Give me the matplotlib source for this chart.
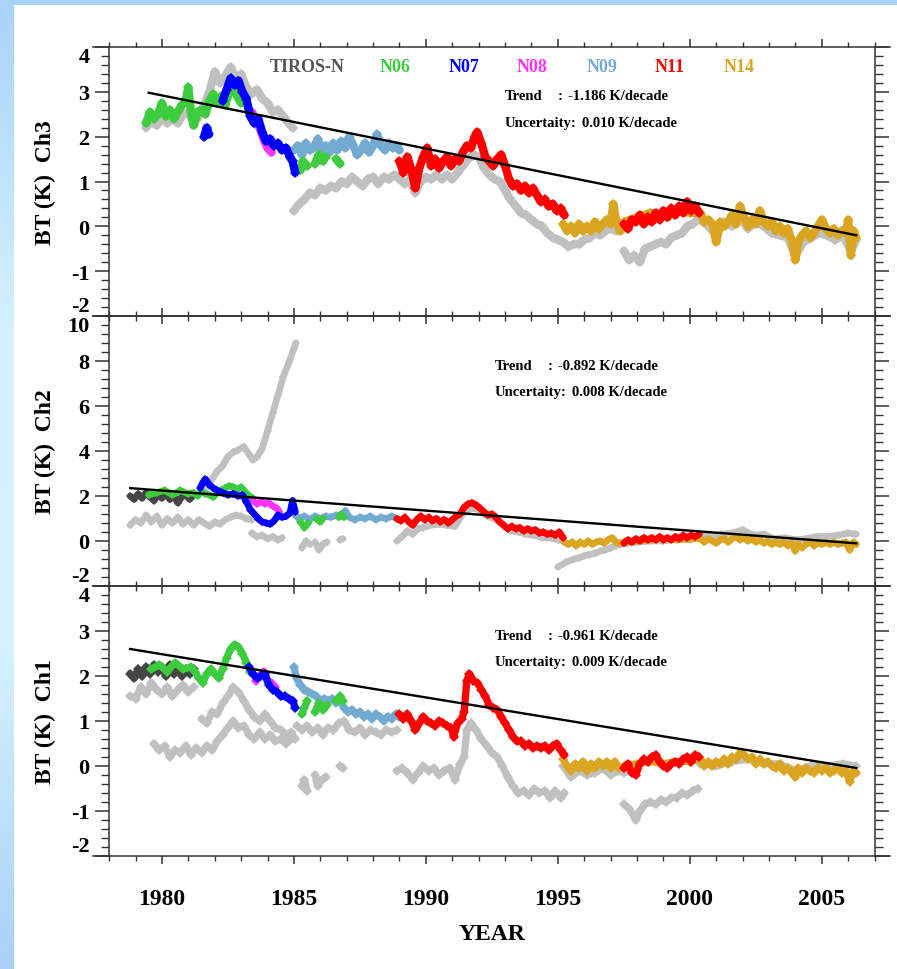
import numpy as np
import matplotlib
matplotlib.use("Agg")
import matplotlib.pyplot as plt
from matplotlib.colors import LinearSegmentedColormap
from matplotlib.patches import Rectangle
from matplotlib.ticker import FixedLocator, MultipleLocator

# --- data: (year, BT anomaly K); BRK breaks a band ---
BRK = (np.nan, np.nan)

SATS = ["TIROS-N", "N06", "N07", "N08", "N09", "N11", "N14"]
SAT_COLORS = ["#454545", "#3dcc3d", "#0000ff", "#ff33ff", "#72aad2", "#ff0000", "#daa520"]
GRAY = "#c0c0c0"

# ---------- Ch3 ----------
CH3_GRAY = [
    (1979.4, 2.20), (1979.6, 2.35), (1979.8, 2.25), (1980.0, 2.45), (1980.2, 2.30), (1980.4, 2.40),
    (1980.6, 2.30), (1980.8, 2.50), (1981.0, 2.55), (1981.2, 2.30), (1981.4, 2.45), (1981.6, 2.70),
    (1981.8, 3.00), (1982.0, 3.45), (1982.2, 3.20), (1982.4, 3.35), (1982.6, 3.55), (1982.8, 3.30),
    (1983.0, 3.40), (1983.2, 3.10), (1983.4, 2.95), (1983.6, 3.05), (1983.8, 2.85), (1984.0, 2.75),
    (1984.2, 2.55), (1984.4, 2.60), (1984.6, 2.45), (1984.8, 2.30), (1984.95, 2.20),
    BRK,
    (1985.0, 0.35), (1985.2, 0.50), (1985.4, 0.60), (1985.6, 0.75), (1985.8, 0.70), (1986.0, 0.85),
    (1986.2, 0.80), (1986.4, 0.90), (1986.6, 0.85), (1986.8, 1.00), (1987.0, 0.95), (1987.2, 1.10),
    (1987.4, 1.00), (1987.6, 0.90), (1987.8, 1.05), (1988.0, 1.10), (1988.2, 0.95), (1988.4, 1.10),
    (1988.6, 1.05), (1988.8, 1.15), (1989.0, 1.05), (1989.2, 0.95), (1989.4, 1.05), (1989.6, 0.75),
    (1989.8, 1.00), (1990.0, 1.10), (1990.2, 1.05), (1990.4, 1.15), (1990.6, 1.05), (1990.8, 1.15),
    (1991.0, 1.05), (1991.2, 1.20), (1991.4, 1.35), (1991.6, 1.50), (1991.8, 1.60), (1992.0, 1.55),
    (1992.2, 1.30), (1992.4, 1.15), (1992.6, 1.05), (1992.8, 1.00), (1993.0, 0.80), (1993.2, 0.60),
    (1993.4, 0.45), (1993.6, 0.30), (1993.8, 0.25), (1994.0, 0.15), (1994.2, 0.05), (1994.4, 0.00),
    (1994.6, -0.15), (1994.8, -0.25), (1995.0, -0.30), (1995.2, -0.35), (1995.4, -0.45), (1995.6, -0.40),
    (1995.8, -0.40), (1996.0, -0.30), (1996.2, -0.25), (1996.4, -0.15), (1996.6, -0.20), (1996.8, -0.10),
    (1997.0, -0.05), (1997.2, -0.10), (1997.4, -0.10),
    BRK,
    (1997.5, -0.55), (1997.7, -0.75), (1997.9, -0.65), (1998.1, -0.80), (1998.3, -0.50), (1998.5, -0.45),
    (1998.7, -0.40), (1998.9, -0.35), (1999.1, -0.40), (1999.3, -0.25), (1999.5, -0.20), (1999.7, -0.15),
    (1999.9, 0.00), (2000.1, 0.05), (2000.3, 0.15),
    BRK,
    (2000.4, 0.15), (2000.7, 0.00), (2001.0, -0.20), (2001.3, 0.10), (2001.6, 0.00), (2001.9, 0.20),
    (2002.2, -0.05), (2002.5, 0.10), (2002.8, 0.00), (2003.1, -0.15), (2003.4, -0.20), (2003.7, -0.25),
    (2004.0, -0.65), (2004.3, -0.35), (2004.6, -0.25), (2004.9, -0.15), (2005.2, -0.20), (2005.5, -0.30),
    (2005.8, -0.20), (2006.1, -0.55), (2006.3, -0.30),
]
CH3_N06 = [
    (1979.4, 2.30), (1979.55, 2.55), (1979.7, 2.40), (1979.85, 2.50), (1980.0, 2.75), (1980.15, 2.45),
    (1980.3, 2.60), (1980.45, 2.40), (1980.6, 2.55), (1980.75, 2.70), (1980.9, 2.80), (1981.0, 3.10),
    (1981.1, 2.55), (1981.2, 2.25), (1981.35, 2.55), (1981.5, 2.60), (1981.65, 2.50), (1981.8, 2.80),
    (1981.95, 2.95), (1982.1, 2.75), (1982.25, 2.90), (1982.4, 2.70), (1982.55, 3.00), (1982.7, 3.15),
    (1982.85, 2.90), (1983.0, 2.75), (1983.15, 2.85), (1983.3, 2.55),
    BRK, (1985.25, 1.25), (1985.35, 1.45), (1985.5, 1.35),
    BRK, (1985.8, 1.40), (1985.95, 1.60), (1986.1, 1.45), (1986.2, 1.55),
    BRK, (1986.6, 1.50), (1986.75, 1.40),
]
CH3_N07 = [
    (1981.6, 2.00), (1981.7, 2.20), (1981.78, 2.05),
    BRK,
    (1982.3, 2.80), (1982.45, 3.05), (1982.6, 3.30), (1982.75, 3.15), (1982.9, 3.25), (1983.05, 3.00),
    (1983.2, 2.85), (1983.35, 2.45), (1983.5, 2.30), (1983.65, 2.40), (1983.8, 2.10), (1983.95, 1.90),
    (1984.1, 1.95), (1984.25, 1.80), (1984.4, 1.85), (1984.55, 1.70), (1984.7, 1.75), (1984.85, 1.55),
    (1984.95, 1.45), (1985.05, 1.20),
]
CH3_N08 = [(1983.4, 2.55), (1983.55, 2.35), (1983.7, 2.20), (1983.85, 1.95), (1984.0, 1.75), (1984.15, 1.65)]
CH3_N09 = [
    (1985.0, 1.70), (1985.15, 1.80), (1985.3, 1.60), (1985.45, 1.85), (1985.6, 1.70), (1985.75, 1.75),
    (1985.9, 1.95), (1986.05, 1.70), (1986.2, 1.80), (1986.35, 1.65), (1986.5, 1.85), (1986.65, 1.70),
    (1986.8, 1.90), (1986.95, 1.75), (1987.1, 2.00), (1987.25, 1.80), (1987.4, 1.60), (1987.55, 1.70),
    (1987.7, 1.85), (1987.85, 1.65), (1988.0, 1.80), (1988.15, 2.05), (1988.3, 1.80), (1988.45, 1.70),
    (1988.6, 1.85), (1988.75, 1.75), (1988.9, 1.80), (1989.0, 1.70),
]
CH3_N11 = [
    (1989.0, 1.45), (1989.15, 1.20), (1989.3, 1.55), (1989.45, 1.25), (1989.6, 0.85), (1989.75, 1.30),
    (1989.9, 1.55), (1990.05, 1.75), (1990.2, 1.35), (1990.35, 1.50), (1990.5, 1.30), (1990.65, 1.45),
    (1990.8, 1.55), (1990.95, 1.35), (1991.1, 1.50), (1991.25, 1.45), (1991.4, 1.65), (1991.55, 1.80),
    (1991.7, 1.75), (1991.85, 2.00), (1991.95, 2.10), (1992.1, 1.85), (1992.25, 1.55), (1992.4, 1.45),
    (1992.55, 1.35), (1992.7, 1.50), (1992.85, 1.60), (1993.0, 1.35), (1993.15, 1.05), (1993.3, 0.90),
    (1993.45, 0.95), (1993.6, 0.80), (1993.75, 0.90), (1993.9, 0.75), (1994.05, 0.85), (1994.2, 0.70),
    (1994.35, 0.55), (1994.5, 0.60), (1994.65, 0.45), (1994.8, 0.50), (1994.95, 0.35), (1995.1, 0.40),
    (1995.25, 0.25),
    BRK,
    (1997.5, 0.05), (1997.65, -0.05), (1997.8, 0.15), (1997.95, 0.10), (1998.1, 0.25), (1998.25, 0.05),
    (1998.4, 0.20), (1998.55, 0.10), (1998.7, 0.30), (1998.85, 0.15), (1999.0, 0.35), (1999.15, 0.20),
    (1999.3, 0.40), (1999.45, 0.25), (1999.6, 0.45), (1999.75, 0.30), (1999.9, 0.55), (2000.05, 0.35),
    (2000.2, 0.45), (2000.35, 0.30),
]
CH3_N14 = [
    (1995.2, 0.05), (1995.35, -0.10), (1995.5, 0.00), (1995.65, -0.15), (1995.8, 0.05), (1995.95, -0.10),
    (1996.1, 0.00), (1996.25, -0.10), (1996.4, 0.10), (1996.55, -0.05), (1996.7, 0.05), (1996.85, 0.15),
    (1997.0, 0.05), (1997.1, 0.50), (1997.2, 0.15), (1997.35, -0.10), (1997.5, 0.10), (1998.0, 0.20),
    (1998.5, 0.30), (1999.0, 0.25), (1999.5, 0.35), (2000.0, 0.30), (2000.4, 0.30), (2000.55, 0.10),
    (2000.7, 0.15), (2000.85, 0.05), (2001.0, -0.35), (2001.15, 0.10), (2001.3, 0.00), (2001.45, 0.10),
    (2001.6, 0.25), (2001.75, 0.05), (2001.9, 0.45), (2002.05, 0.20), (2002.2, 0.00), (2002.35, 0.15),
    (2002.5, 0.05), (2002.65, 0.35), (2002.8, 0.10), (2002.95, 0.00), (2003.1, 0.10), (2003.25, -0.10),
    (2003.4, 0.00), (2003.55, -0.15), (2003.7, -0.05), (2003.85, -0.30), (2004.0, -0.75), (2004.1, -0.35),
    (2004.25, -0.20), (2004.4, -0.10), (2004.55, -0.25), (2004.7, -0.15), (2004.85, 0.00), (2005.0, 0.15),
    (2005.15, -0.05), (2005.3, -0.15), (2005.45, -0.05), (2005.6, -0.20), (2005.75, -0.10), (2005.9, -0.15),
    (2006.0, 0.15), (2006.1, -0.65), (2006.2, -0.10), (2006.3, -0.25),
]

# ---------- Ch2 ----------
CH2_GRAY = [
    (1978.8, 0.70), (1979.0, 0.95), (1979.2, 0.80), (1979.4, 1.15), (1979.6, 0.85), (1979.8, 1.10),
    (1980.0, 0.70), (1980.2, 1.00), (1980.4, 0.80), (1980.6, 1.05), (1980.8, 0.75), (1981.0, 0.95),
    (1981.2, 0.70), (1981.4, 0.95), (1981.6, 0.80), (1981.8, 0.65), (1982.0, 0.85), (1982.2, 0.75),
    (1982.4, 0.95), (1982.6, 1.05), (1982.8, 1.15), (1983.0, 1.10), (1983.2, 1.00), (1983.4, 0.95),
    BRK,
    (1983.4, 0.35), (1983.6, 0.20), (1983.8, 0.25), (1984.0, 0.10), (1984.2, 0.20), (1984.4, 0.05), (1984.55, 0.15),
    BRK,
    (1981.7, 2.40), (1981.9, 2.75), (1982.1, 3.10), (1982.3, 3.35), (1982.5, 3.75), (1982.7, 3.95),
    (1982.9, 4.05), (1983.1, 4.20), (1983.3, 3.85), (1983.45, 3.60), (1983.6, 3.75), (1983.8, 4.10),
    (1984.0, 4.90), (1984.2, 5.70), (1984.4, 6.50), (1984.6, 7.30), (1984.8, 7.90), (1985.0, 8.55), (1985.07, 8.80),
    BRK, (1985.3, -0.30), (1985.45, 0.00), (1985.6, -0.15),
    BRK, (1985.8, -0.05), (1985.95, -0.40), (1986.1, -0.15), (1986.25, -0.05),
    BRK, (1986.75, 0.05), (1986.85, 0.10),
    BRK,
    (1988.9, 0.00), (1989.1, 0.20), (1989.3, 0.45), (1989.5, 0.30), (1989.7, 0.55), (1989.9, 0.60),
    (1990.2, 0.70), (1990.5, 0.75), (1990.8, 0.70), (1991.1, 0.65), (1991.4, 1.20), (1991.7, 1.45),
    (1992.0, 1.40), (1992.3, 1.10), (1992.6, 1.00), (1992.9, 0.70), (1993.2, 0.45), (1993.5, 0.40),
    (1993.8, 0.30), (1994.1, 0.25), (1994.4, 0.15), (1994.7, 0.15), (1995.0, 0.05), (1995.2, 0.00),
    BRK,
    (1995.0, -1.15), (1995.3, -0.95), (1995.6, -0.80), (1995.8, -0.75), (1996.0, -0.65), (1996.2, -0.60),
    (1996.4, -0.55), (1996.6, -0.45), (1996.8, -0.40), (1997.0, -0.30), (1997.2, -0.20), (1997.4, -0.15),
    (1997.7, -0.10), (1998.0, -0.05), (1998.5, 0.00), (1999.0, 0.00), (1999.5, 0.10), (2000.0, 0.05), (2000.4, 0.20),
    BRK,
    (2000.4, 0.30), (2000.8, 0.20), (2001.2, 0.30), (2001.6, 0.35), (2002.0, 0.50), (2002.4, 0.25),
    (2002.8, 0.30), (2003.2, 0.10), (2003.6, 0.15), (2004.0, 0.05), (2004.4, 0.10), (2004.8, 0.20),
    (2005.2, 0.20), (2005.6, 0.25), (2006.0, 0.35), (2006.3, 0.30),
]
CH2_TIROS = [
    (1978.8, 2.00), (1978.95, 1.85), (1979.1, 2.10), (1979.25, 1.90), (1979.4, 2.15), (1979.55, 1.95),
    (1979.7, 1.80), (1979.85, 2.05), (1980.0, 1.90), (1980.15, 2.10), (1980.3, 1.85), (1980.45, 2.00),
    (1980.6, 1.70), (1980.75, 1.95), (1980.9, 2.05), (1981.05, 1.85), (1981.2, 2.05),
]
CH2_N06 = [
    (1979.5, 2.05), (1979.8, 2.15), (1980.1, 2.25), (1980.4, 2.05), (1980.7, 2.25), (1981.0, 2.10),
    (1981.2, 2.15), (1981.35, 2.00), (1981.5, 2.20), (1981.65, 2.10), (1981.8, 2.05), (1981.95, 1.95),
    (1982.1, 2.15), (1982.25, 2.25), (1982.4, 2.35), (1982.55, 2.45), (1982.7, 2.40), (1982.85, 2.30),
    (1983.0, 2.40), (1983.15, 2.20), (1983.3, 2.00), (1983.45, 1.90),
    BRK, (1985.25, 0.85), (1985.4, 0.60), (1985.55, 0.80),
    BRK, (1985.85, 1.00), (1986.0, 0.85), (1986.1, 1.00),
    BRK, (1986.7, 1.05), (1986.8, 1.20), (1986.9, 1.05),
]
CH2_N07 = [
    (1981.45, 2.35), (1981.55, 2.60), (1981.65, 2.75), (1981.8, 2.50), (1981.95, 2.35), (1982.1, 2.25),
    (1982.3, 2.15), (1982.5, 2.05), (1982.7, 2.10), (1982.9, 2.00), (1983.05, 2.05), (1983.2, 1.75),
    (1983.35, 1.40), (1983.5, 1.20), (1983.65, 1.00), (1983.8, 0.85), (1983.95, 0.80), (1984.1, 0.75),
    (1984.25, 0.90), (1984.4, 1.15), (1984.55, 1.05), (1984.7, 1.10), (1984.85, 1.25), (1984.95, 1.80),
    (1985.05, 1.30),
]
CH2_N08 = [(1983.45, 1.80), (1983.6, 1.65), (1983.75, 1.75), (1983.9, 1.65), (1984.05, 1.70),
           (1984.2, 1.55), (1984.35, 1.45), (1984.45, 1.30)]
CH2_N09 = [
    (1985.0, 1.20), (1985.2, 1.00), (1985.4, 1.10), (1985.6, 0.95), (1985.8, 1.10), (1986.0, 1.00),
    (1986.2, 1.10), (1986.4, 1.05), (1986.6, 1.15), (1986.8, 1.10), (1986.95, 1.35), (1987.1, 1.05),
    (1987.3, 0.95), (1987.5, 1.05), (1987.7, 1.00), (1987.9, 1.10), (1988.1, 0.95), (1988.3, 1.05),
    (1988.5, 1.00), (1988.7, 1.10), (1988.9, 1.00),
]
CH2_N11 = [
    (1988.9, 1.00), (1989.05, 0.90), (1989.2, 1.05), (1989.35, 0.85), (1989.5, 0.70), (1989.65, 0.95),
    (1989.8, 1.10), (1989.95, 0.95), (1990.1, 1.05), (1990.25, 0.90), (1990.4, 1.00), (1990.55, 0.85),
    (1990.7, 0.95), (1990.85, 0.80), (1991.0, 0.95), (1991.15, 1.10), (1991.3, 1.20), (1991.45, 1.50),
    (1991.6, 1.65), (1991.75, 1.70), (1991.9, 1.60), (1992.05, 1.45), (1992.2, 1.30), (1992.35, 1.15),
    (1992.5, 1.20), (1992.65, 1.05), (1992.8, 0.85), (1992.95, 0.70), (1993.1, 0.55), (1993.25, 0.65),
    (1993.4, 0.55), (1993.55, 0.60), (1993.7, 0.45), (1993.85, 0.55), (1994.0, 0.45), (1994.15, 0.50),
    (1994.3, 0.35), (1994.45, 0.40), (1994.6, 0.30), (1994.75, 0.35), (1994.9, 0.25), (1995.05, 0.40),
    (1995.2, 0.15),
    BRK,
    (1997.5, -0.10), (1997.65, 0.05), (1997.8, -0.05), (1997.95, 0.10), (1998.1, 0.00), (1998.25, 0.15),
    (1998.4, 0.05), (1998.55, 0.15), (1998.7, 0.05), (1998.85, 0.20), (1999.0, 0.05), (1999.15, 0.15),
    (1999.3, 0.05), (1999.45, 0.20), (1999.6, 0.10), (1999.75, 0.25), (1999.9, 0.15), (2000.05, 0.25),
    (2000.2, 0.20), (2000.35, 0.30),
]
CH2_N14 = [
    (1995.25, -0.05), (1995.4, -0.15), (1995.55, -0.05), (1995.7, -0.20), (1995.85, -0.05), (1996.0, -0.15),
    (1996.15, 0.00), (1996.3, -0.15), (1996.45, -0.05), (1996.6, 0.00), (1996.75, -0.10), (1996.9, 0.05),
    (1997.05, 0.15), (1997.2, -0.05), (1997.35, -0.10), (1997.5, -0.05), (1998.0, 0.00), (1998.5, 0.05),
    (1999.0, 0.10), (1999.5, 0.05), (2000.0, 0.10), (2000.4, 0.10), (2000.55, -0.05), (2000.7, 0.10),
    (2000.85, 0.00), (2001.0, -0.10), (2001.15, 0.05), (2001.3, 0.10), (2001.45, -0.05), (2001.6, 0.10),
    (2001.75, 0.20), (2001.9, 0.05), (2002.05, 0.15), (2002.2, 0.00), (2002.35, 0.10), (2002.5, -0.05),
    (2002.65, 0.05), (2002.8, -0.10), (2002.95, 0.00), (2003.1, -0.15), (2003.25, -0.05), (2003.4, -0.15),
    (2003.55, -0.05), (2003.7, -0.20), (2003.85, -0.10), (2004.0, -0.45), (2004.1, -0.15), (2004.25, -0.30),
    (2004.4, -0.15), (2004.55, -0.05), (2004.7, -0.20), (2004.85, -0.10), (2005.0, -0.15), (2005.15, -0.05),
    (2005.3, -0.15), (2005.45, -0.05), (2005.6, -0.15), (2005.75, -0.10), (2005.9, -0.05), (2006.05, -0.40),
    (2006.2, -0.05), (2006.3, -0.15),
]

# ---------- Ch1 ----------
CH1_GRAY = [
    (1978.8, 1.55), (1979.0, 1.50), (1979.2, 1.75), (1979.4, 1.60), (1979.6, 1.85), (1979.8, 1.70),
    (1980.0, 1.60), (1980.2, 1.75), (1980.4, 1.55), (1980.6, 1.70), (1980.8, 1.80), (1981.0, 1.65), (1981.2, 1.75),
    BRK,
    (1981.5, 1.05), (1981.7, 0.95), (1981.9, 1.20), (1982.1, 1.15), (1982.3, 1.40), (1982.5, 1.55),
    (1982.7, 1.75), (1982.9, 1.65), (1983.1, 1.45), (1983.3, 1.25), (1983.5, 1.10), (1983.7, 1.00),
    (1983.9, 1.15), (1984.1, 1.00), (1984.3, 0.85), (1984.5, 0.80), (1984.7, 0.70), (1984.9, 0.75), (1985.05, 0.60),
    BRK,
    (1979.7, 0.50), (1979.9, 0.35), (1980.1, 0.45), (1980.3, 0.20), (1980.5, 0.35), (1980.7, 0.30),
    (1980.9, 0.45), (1981.1, 0.25), (1981.3, 0.40), (1981.5, 0.30), (1981.7, 0.45), (1981.9, 0.35),
    (1982.1, 0.55), (1982.3, 0.70), (1982.5, 0.85), (1982.7, 1.00), (1982.9, 0.85), (1983.1, 0.90),
    (1983.3, 0.70), (1983.5, 0.60), (1983.7, 0.75), (1983.9, 0.60), (1984.1, 0.70), (1984.3, 0.55),
    (1984.5, 0.60), (1984.7, 0.50), (1984.9, 0.60),
    BRK,
    (1985.1, 0.90), (1985.3, 0.80), (1985.5, 0.90), (1985.7, 0.75), (1985.9, 0.85), (1986.1, 0.70),
    (1986.3, 0.85), (1986.5, 0.80), (1986.7, 0.95), (1986.9, 1.00), (1987.1, 0.80), (1987.3, 0.75),
    (1987.5, 0.85), (1987.7, 0.70), (1987.9, 0.80), (1988.1, 0.75), (1988.3, 0.70), (1988.5, 0.80),
    (1988.7, 0.75), (1988.9, 0.80),
    BRK, (1985.3, -0.45), (1985.4, -0.30), (1985.5, -0.55),
    BRK, (1985.8, -0.20), (1985.9, -0.45), (1986.05, -0.30), (1986.2, -0.25),
    BRK, (1986.75, 0.00), (1986.85, -0.05),
    BRK,
    (1988.9, -0.10), (1989.1, -0.05), (1989.3, -0.15), (1989.5, -0.30), (1989.7, -0.15), (1989.9, 0.00),
    (1990.1, -0.10), (1990.3, -0.05), (1990.5, -0.20), (1990.7, -0.10), (1990.9, -0.05), (1991.1, -0.30),
    (1991.3, 0.05), (1991.45, 0.20), (1991.55, 0.80), (1991.7, 0.95), (1991.9, 0.80), (1992.1, 0.60),
    (1992.3, 0.45), (1992.5, 0.30), (1992.7, 0.20), (1992.9, 0.00), (1993.1, -0.25), (1993.3, -0.45),
    (1993.5, -0.60), (1993.7, -0.55), (1993.9, -0.65), (1994.1, -0.50), (1994.3, -0.60), (1994.5, -0.55),
    (1994.7, -0.70), (1994.9, -0.55), (1995.1, -0.70), (1995.25, -0.60),
    BRK,
    (1995.2, 0.00), (1995.5, -0.25), (1995.8, -0.10), (1996.1, -0.20), (1996.4, -0.15), (1996.7, -0.05),
    (1997.0, -0.20), (1997.3, -0.10), (1997.5, -0.15),
    BRK,
    (1997.5, -0.85), (1997.7, -0.95), (1997.95, -1.20), (1998.1, -1.00), (1998.3, -0.85), (1998.5, -0.80),
    (1998.7, -0.85), (1998.9, -0.75), (1999.1, -0.80), (1999.3, -0.70), (1999.5, -0.70), (1999.7, -0.60),
    (1999.9, -0.65), (2000.1, -0.55), (2000.3, -0.50),
    BRK,
    (2000.4, 0.05), (2001.0, 0.00), (2001.6, 0.10), (2002.2, 0.15), (2002.8, 0.05), (2003.4, 0.05),
    (2004.0, -0.10), (2004.6, 0.00), (2005.2, 0.00), (2005.8, 0.05), (2006.3, 0.00),
]
CH1_TIROS = [
    (1978.8, 2.05), (1978.95, 1.95), (1979.1, 2.15), (1979.25, 2.00), (1979.4, 2.20), (1979.55, 2.05),
    (1979.7, 2.25), (1979.85, 2.10), (1980.0, 2.20), (1980.15, 2.00), (1980.3, 2.25), (1980.45, 2.05),
    (1980.6, 2.20), (1980.75, 2.00), (1980.9, 2.15), (1981.05, 2.05), (1981.2, 2.15),
]
CH1_N06 = [
    (1979.6, 2.15), (1979.9, 2.25), (1980.2, 2.10), (1980.5, 2.30), (1980.8, 2.15), (1981.1, 2.20),
    (1981.25, 2.10), (1981.4, 1.95), (1981.55, 1.85), (1981.7, 2.05), (1981.85, 2.15), (1982.0, 2.05),
    (1982.15, 1.95), (1982.3, 2.15), (1982.45, 2.40), (1982.6, 2.60), (1982.75, 2.70), (1982.9, 2.65),
    (1983.05, 2.50), (1983.2, 2.30), (1983.35, 2.10),
    BRK, (1985.3, 1.15), (1985.4, 1.30), (1985.5, 1.45),
    BRK, (1985.8, 1.20), (1985.95, 1.40), (1986.1, 1.25), (1986.25, 1.35),
    BRK, (1986.6, 1.45), (1986.75, 1.55), (1986.85, 1.45),
]
CH1_N07 = [
    (1983.3, 2.20), (1983.45, 2.05), (1983.6, 1.95), (1983.75, 2.00), (1983.9, 2.05), (1984.05, 1.80),
    (1984.2, 1.70), (1984.35, 1.65), (1984.5, 1.55), (1984.65, 1.55), (1984.8, 1.50), (1984.95, 1.45),
    (1985.05, 1.30),
]
CH1_N08 = [(1983.55, 1.90), (1983.7, 2.00), (1983.85, 2.10), (1984.0, 1.90), (1984.15, 1.85), (1984.3, 1.75)]
CH1_N09 = [
    (1985.0, 2.20), (1985.1, 1.95), (1985.25, 1.80), (1985.4, 1.70), (1985.55, 1.65), (1985.7, 1.60),
    (1985.85, 1.55), (1986.0, 1.45), (1986.15, 1.50), (1986.3, 1.45), (1986.45, 1.50), (1986.6, 1.40),
    (1986.75, 1.45), (1986.9, 1.30), (1987.05, 1.20), (1987.2, 1.25), (1987.35, 1.15), (1987.5, 1.20),
    (1987.65, 1.10), (1987.8, 1.15), (1987.95, 1.05), (1988.1, 1.15), (1988.25, 1.10), (1988.4, 1.00),
    (1988.55, 1.10), (1988.7, 1.05), (1988.85, 1.15), (1989.0, 1.10),
]
CH1_N11 = [
    (1989.0, 1.15), (1989.15, 1.05), (1989.3, 1.15), (1989.45, 1.00), (1989.6, 0.80), (1989.75, 0.95),
    (1989.9, 1.10), (1990.05, 1.00), (1990.2, 0.95), (1990.35, 0.90), (1990.5, 1.00), (1990.65, 0.95),
    (1990.8, 0.90), (1990.95, 0.85), (1991.05, 0.65), (1991.2, 0.95), (1991.35, 1.05), (1991.45, 1.20),
    (1991.55, 1.90), (1991.65, 2.05), (1991.8, 1.90), (1991.95, 1.85), (1992.1, 1.70), (1992.25, 1.55),
    (1992.4, 1.35), (1992.55, 1.30), (1992.7, 1.25), (1992.85, 1.10), (1993.0, 0.95), (1993.15, 0.80),
    (1993.3, 0.65), (1993.45, 0.55), (1993.6, 0.55), (1993.75, 0.45), (1993.9, 0.50), (1994.05, 0.40),
    (1994.2, 0.45), (1994.35, 0.40), (1994.5, 0.45), (1994.65, 0.35), (1994.8, 0.45), (1994.95, 0.50),
    (1995.1, 0.35), (1995.25, 0.25),
    BRK,
    (1997.5, -0.05), (1997.65, 0.05), (1997.8, -0.15), (1997.95, -0.20), (1998.1, 0.05), (1998.25, 0.15),
    (1998.4, 0.10), (1998.55, 0.20), (1998.7, 0.25), (1998.85, 0.10), (1999.0, 0.00), (1999.15, -0.05),
    (1999.3, 0.05), (1999.45, 0.10), (1999.6, 0.05), (1999.75, 0.15), (1999.9, 0.20), (2000.05, 0.10),
    (2000.2, 0.25), (2000.35, 0.20),
]
CH1_N14 = [
    (1995.2, 0.15), (1995.35, 0.00), (1995.5, -0.10), (1995.65, 0.05), (1995.8, -0.05), (1995.95, 0.10),
    (1996.1, -0.10), (1996.25, 0.05), (1996.4, -0.05), (1996.55, 0.10), (1996.7, 0.00), (1996.85, 0.10),
    (1997.0, -0.05), (1997.15, 0.10), (1997.3, -0.05), (1997.5, 0.00), (1998.0, 0.05), (1998.5, 0.10),
    (1999.0, 0.05), (1999.5, 0.10), (2000.0, 0.10), (2000.4, 0.15), (2000.55, 0.00), (2000.7, 0.10),
    (2000.85, 0.00), (2001.0, 0.10), (2001.15, 0.05), (2001.3, 0.15), (2001.45, 0.05), (2001.6, 0.20),
    (2001.75, 0.15), (2001.9, 0.30), (2002.05, 0.25), (2002.2, 0.15), (2002.35, 0.20), (2002.5, 0.05),
    (2002.65, 0.15), (2002.8, 0.05), (2002.95, 0.10), (2003.1, 0.00), (2003.25, -0.05), (2003.4, 0.05),
    (2003.55, -0.10), (2003.7, -0.05), (2003.85, -0.15), (2004.0, -0.25), (2004.1, -0.05), (2004.25, -0.15),
    (2004.4, -0.05), (2004.55, -0.10), (2004.7, -0.15), (2004.85, -0.05), (2005.0, -0.10), (2005.15, -0.05),
    (2005.3, -0.15), (2005.45, -0.10), (2005.6, -0.05), (2005.75, -0.15), (2005.9, -0.10), (2006.05, -0.35),
    (2006.2, -0.10), (2006.3, -0.15),
]

# trend lines: start year, value at start, slope (K/decade), end year
TREND_START = [1979.5, 1978.8, 1978.8]
TREND_Y0 = [2.98, 2.35, 2.60]
TREND_SLOPE = [-1.186, -0.892, -0.961]
TREND_END = 2006.3
TREND_UNC = ["0.010", "0.008", "0.009"]

CHANNELS = ["Ch3", "Ch2", "Ch1"]
YTICKS = [[-2, -1, 0, 1, 2, 3, 4], [-2, 0, 2, 4, 6, 8, 10], [-2, -1, 0, 1, 2, 3, 4]]
XTICKS = [1980, 1985, 1990, 1995, 2000, 2005]

# --- Plotting ---
W, H = 897, 970
plt.rcParams['font.family'] = ['Liberation Serif', 'DejaVu Serif']
plt.rcParams['font.weight'] = 'bold'
plt.rcParams['axes.unicode_minus'] = False

fig = plt.figure(figsize=(W / 100, H / 100), dpi=100)
fig.patch.set_facecolor('white')

# light-blue slide frame (left strip + top strip)
bg = fig.add_axes([0, 0, 13 / W, 1], zorder=-5)
cmap = LinearSegmentedColormap.from_list('frame', ['#a9d0f8', '#d6f2fe', '#d4f0fe', '#a8d4fa'])
bg.imshow(np.linspace(0, 1, 200).reshape(-1, 1), aspect='auto', cmap=cmap, extent=[0, 1, 0, 1], origin='lower')
bg.axis('off')
fig.patches.append(Rectangle((0, 1 - 6 / H), 1, 6 / H, transform=fig.transFigure,
                             facecolor='#a8d4fa', edgecolor='none', zorder=-4))

panels = [
    dict(gray=CH3_GRAY, tiros=None, n06=CH3_N06, n07=CH3_N07, n08=CH3_N08, n09=CH3_N09, n11=CH3_N11, n14=CH3_N14),
    dict(gray=CH2_GRAY, tiros=CH2_TIROS, n06=CH2_N06, n07=CH2_N07, n08=CH2_N08, n09=CH2_N09, n11=CH2_N11, n14=CH2_N14),
    dict(gray=CH1_GRAY, tiros=CH1_TIROS, n06=CH1_N06, n07=CH1_N07, n08=CH1_N08, n09=CH1_N09, n11=CH1_N11, n14=CH1_N14),
]
tops = [48, 317, 587]
heights = [269, 270, 270]
x0_px, x1_px = 93, 890
XLIM = (1977.39, 2007.58)
axc = dict(n06=SAT_COLORS[1], n07=SAT_COLORS[2], n08=SAT_COLORS[3], n09=SAT_COLORS[4],
           n11=SAT_COLORS[5], n14=SAT_COLORS[6])
LWS = [6.0, 4.8, 5.2]   # band thickness per panel
MS = [5.5, 4.5, 5.0]


def band(ax, pts, color, z, lw, ms):
    a = np.array(pts, dtype=float)
    ax.plot(a[:, 0], a[:, 1], color=color, lw=lw, solid_joinstyle='round',
            solid_capstyle='round', marker='D', ms=ms, mew=0, zorder=z)


axes = []
for i, p in enumerate(panels):
    ax = fig.add_axes([x0_px / W, 1 - (tops[i] + heights[i]) / H, (x1_px - x0_px) / W, heights[i] / H])
    axes.append(ax)
    ax.set_facecolor('none')
    ax.set_xlim(*XLIM)
    ax.set_ylim(YTICKS[i][0], YTICKS[i][-1])
    lw, ms = LWS[i], MS[i]

    band(ax, p['gray'], GRAY, 2, lw, ms)
    if p['tiros'] is not None:
        band(ax, p['tiros'], SAT_COLORS[0], 3, lw, ms)
    band(ax, p['n09'], axc['n09'], 3, lw, ms)
    band(ax, p['n06'], axc['n06'], 4, lw, ms)
    band(ax, p['n08'], axc['n08'], 4, lw, ms)
    band(ax, p['n07'], axc['n07'], 5, lw, ms)
    band(ax, p['n14'], axc['n14'], 4, lw, ms)
    band(ax, p['n11'], axc['n11'], 5, lw, ms)

    # trend line
    tx = np.array([TREND_START[i], TREND_END])
    ty = TREND_Y0[i] + TREND_SLOPE[i] * (tx - TREND_START[i]) / 10.0
    ax.plot(tx, ty, color='black', lw=1.7, zorder=6)

    # trend text
    xa = 0.517 if i == 0 else 0.504
    ax.text(xa, 0.818, "Trend", transform=ax.transAxes, fontsize=10.5, va='center')
    ax.text(0.583 if i == 0 else 0.571, 0.818, ":", transform=ax.transAxes, fontsize=10.5, va='center')
    ax.text(0.596 if i == 0 else 0.583, 0.818, f"{TREND_SLOPE[i]:.3f} K/decade", transform=ax.transAxes,
            fontsize=10.5, va='center')
    ax.text(xa, 0.721, "Uncertaity:", transform=ax.transAxes, fontsize=10.5, va='center')
    ax.text(0.6135 if i == 0 else 0.601, 0.721, f"{TREND_UNC[i]} K/decade", transform=ax.transAxes,
            fontsize=10.5, va='center')

    # axes styling (IDL-like)
    for s in ax.spines.values():
        s.set_linewidth(1.1)
        s.set_color('#333333')
    ax.spines['left'].set_position(('data', 1978))
    ax.spines['right'].set_position(('data', 2007))
    ax.xaxis.set_major_locator(FixedLocator(XTICKS))
    ax.xaxis.set_minor_locator(MultipleLocator(1))
    ax.yaxis.set_major_locator(FixedLocator(YTICKS[i]))
    ax.yaxis.set_minor_locator(MultipleLocator(0.2 if i != 1 else 0.4))
    ax.tick_params(axis='x', which='major', direction='out', length=6, width=1.1, top=True, bottom=True,
                   color='#333333', labelbottom=(i == 2), labelsize=17, pad=17)
    ax.tick_params(axis='x', which='minor', direction='out', length=3.5, width=1.0, top=True, bottom=True,
                   color='#333333')
    ax.tick_params(axis='y', which='major', direction='out', length=10, width=1.1, left=True, right=True,
                   color='#333333', labelsize=16, pad=4)
    ax.tick_params(axis='y', which='minor', direction='out', length=6, width=1.0, left=True, right=True,
                   color='#333333')
    ax.set_yticklabels([str(v) for v in YTICKS[i]])
    ticks = ax.yaxis.get_major_ticks()
    ticks[0].label1.set_va('bottom')
    ticks[-1].label1.set_va('top')
    if i == 2:
        ax.set_xticklabels([str(v) for v in XTICKS])

    fig.text(45 / W, 1 - (tops[i] + heights[i] / 2) / H, f"BT (K)  {CHANNELS[i]}", rotation=90,
             ha='center', va='center', fontsize=17)

# satellite labels
label_x = [307, 395, 464, 532, 602, 670, 739]
for name, col, px in zip(SATS, SAT_COLORS, label_x):
    axes[0].text((px - x0_px) / (x1_px - x0_px), 0.926, name, color=col if name != "TIROS-N" else '#555555',
                 transform=axes[0].transAxes, ha='center', va='center', fontsize=13)

fig.text(492 / W, 1 - 935 / H, "YEAR", ha='center', va='center', fontsize=17)

fig.savefig("out.png", dpi=100)
